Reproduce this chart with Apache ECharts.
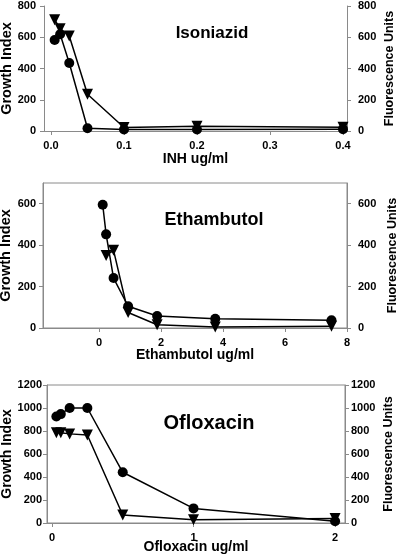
<!DOCTYPE html>
<html><head><meta charset="utf-8">
<script src="https://cdn.jsdelivr.net/npm/echarts@6/dist/echarts.min.js"></script>
<style>html,body{margin:0;padding:0;background:#fff}#c{width:400px;height:555px}</style>
</head><body><div id="c"></div>
<script>
// Isoniazid
const inhConc = [0.005, 0.0125, 0.025, 0.05, 0.1, 0.2, 0.4];
const inhGrowth = [582, 619, 435, 18, 10, 10, 12];
const inhConcTri = [0.005, 0.0125, 0.025, 0.05, 0.1, 0.2, 0.4];
const inhFluor = [712, 655, 608, 235, 22, 30, 24];
// Ethambutol
const embConc = [0.12, 0.23, 0.47, 0.94, 1.875, 3.75, 7.5];
const embGrowth = [595, 452, 241, 105, 58, 45, 37];
const embConcTri = [0.23, 0.47, 0.94, 1.875, 3.75, 7.5];
const embFluor = [350, 375, 75, 16, 5, 8];
// Ofloxacin
const oflConc = [0.03125, 0.0625, 0.125, 0.25, 0.5, 1, 2];
const oflGrowth = [926, 947, 1000, 1000, 441, 127, 15];
const oflFluor = [785, 785, 775, 765, 70, 28, 40];

const xTicks1 = [0, 0.1, 0.2, 0.3, 0.4];
const xTicks2 = [0, 2, 4, 6, 8];
const xTicks3 = [0, 1, 2];
const yTicks1 = [0, 200, 400, 600, 800];
const yTicks2 = [0, 200, 400, 600];
const yTicks3 = [0, 200, 400, 600, 800, 1000, 1200];

const FONT = 'Liberation Sans, Arial, sans-serif';
const GRAY = '#8a8a8a';
const pairs = (xs, ys) => xs.map((x, i) => [x, ys[i]]);

function xAxis(gi, min, max, ticks, name, fmt, nameGap) {
  return {
    type: 'value', gridIndex: gi, min, max, name,
    nameLocation: 'middle', nameGap, nameMoveOverlap: false,
    nameTextStyle: { fontFamily: FONT, fontWeight: 'bold', fontSize: 14, color: '#000' },
    axisLine: { show: true, onZero: false, lineStyle: { color: GRAY, width: 1 } },
    axisTick: { show: true, length: 4, customValues: ticks, lineStyle: { color: GRAY } },
    axisLabel: { customValues: ticks, formatter: fmt, fontFamily: FONT, fontWeight: 'bold', fontSize: 11, color: '#000', margin: 9 },
    splitLine: { show: false }
  };
}
function yAxis(gi, pos, max, ticks, name, nameGap, nameSize, labelMargin) {
  return {
    type: 'value', gridIndex: gi, position: pos, min: 0, max, name,
    nameLocation: 'middle', nameGap, nameRotate: 90, nameMoveOverlap: false,
    nameTextStyle: { fontFamily: FONT, fontWeight: 'bold', fontSize: nameSize, color: '#000' },
    axisLine: { show: true, onZero: false, lineStyle: { color: GRAY, width: 1 } },
    axisTick: { show: true, length: 4, customValues: ticks, lineStyle: { color: GRAY } },
    axisLabel: { customValues: ticks, formatter: v => String(v), fontFamily: FONT, fontWeight: 'bold', fontSize: 11, color: '#000', margin: labelMargin },
    splitLine: { show: false }
  };
}
function triSeries(xi, yi, data) {
  return { type: 'line', xAxisIndex: xi, yAxisIndex: yi, data, symbol: 'triangle', symbolRotate: 180,
    symbolSize: 11, lineStyle: { color: '#000', width: 1.5 }, itemStyle: { color: '#000' }, animation: false, z: 3 };
}
function cirSeries(xi, yi, data) {
  return { type: 'line', xAxisIndex: xi, yAxisIndex: yi, data, symbol: 'circle',
    symbolSize: 10, lineStyle: { color: '#000', width: 1.5 }, itemStyle: { color: '#000' }, animation: false, z: 4 };
}
const title = (t, x, y, size) => ({ type: 'text', x, y, style: { text: t, textAlign: 'center', textVerticalAlign: 'middle', font: 'bold ' + size + 'px ' + FONT, fill: '#000' } });

const chart = echarts.init(document.getElementById('c'), null, { renderer: 'canvas' });
chart.setOption({
  backgroundColor: '#fff',
  animation: false,
  grid: [
    { left: 44, right: 53, top: 6, height: 125, outerBoundsMode: 'none', containLabel: false },
    { left: 43, right: 53, top: 183, height: 145, show: true, borderColor: GRAY, borderWidth: 1, outerBoundsMode: 'none', containLabel: false },
    { left: 47, right: 55, top: 385, height: 138, show: true, borderColor: GRAY, borderWidth: 1, outerBoundsMode: 'none', containLabel: false }
  ],
  xAxis: [
    xAxis(0, -0.0096, 0.4055, xTicks1, 'INH ug/ml', v => v.toFixed(1), 21),
    xAxis(1, -1.806, 8, xTicks2, 'Ethambutol ug/ml', v => String(v), 20),
    xAxis(2, -0.035, 2.07, xTicks3, 'Ofloxacin ug/ml', v => String(v), 17)
  ],
  yAxis: [
    yAxis(0, 'left', 800, yTicks1, 'Growth Index', 30, 14.5, 8),
    yAxis(0, 'right', 800, yTicks1, 'Fluorescence Units', 36, 12.5, 11),
    yAxis(1, 'left', 700, yTicks2, 'Growth Index', 30, 14.5, 7),
    yAxis(1, 'right', 700, yTicks2, 'Fluorescence Units', 39, 12.5, 11),
    yAxis(2, 'left', 1200, yTicks3, 'Growth Index', 33, 14, 5),
    yAxis(2, 'right', 1200, yTicks3, 'Fluorescence Units', 37, 12.5, 6)
  ],
  series: [
    triSeries(0, 0, pairs(inhConcTri, inhFluor)),
    cirSeries(0, 0, pairs(inhConc, inhGrowth)),
    triSeries(1, 2, pairs(embConcTri, embFluor)),
    cirSeries(1, 2, pairs(embConc, embGrowth)),
    triSeries(2, 4, pairs(oflConc, oflFluor)),
    cirSeries(2, 4, pairs(oflConc, oflGrowth))
  ],
  graphic: [
    title('Isoniazid', 212, 33, 17),
    title('Ethambutol', 214, 220, 18),
    title('Ofloxacin', 209, 423, 20)
  ]
});
</script></body></html>
